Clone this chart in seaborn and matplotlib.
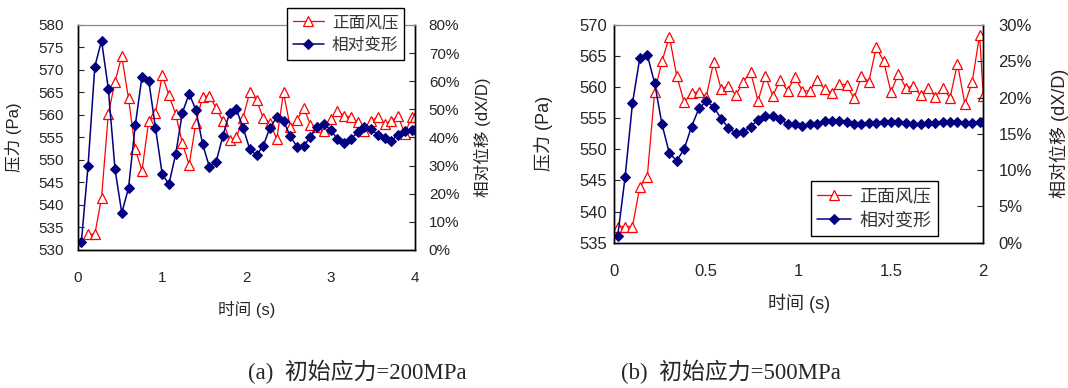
import numpy as np
import matplotlib
matplotlib.use("Agg")
import matplotlib.pyplot as plt
import seaborn as sns
from matplotlib.ticker import MultipleLocator, PercentFormatter, FormatStrFormatter

sns.set_style("white")
plt.rcParams["font.family"] = ["Liberation Sans", "Noto Sans CJK SC", "DejaVu Sans"]

# ── data ────────────────────────────────────────────────────────────────────
# (a) initial stress 200 MPa, sampled every 0.08 s
time_a = list(np.round(np.arange(0.04, 4.0, 0.08), 2)) + [4.0]
pressure_a = [533.5, 533.5, 541.6, 560.2, 567.4, 573.1, 563.7, 552.4, 547.6, 558.7,
              560.4, 568.9, 564.4, 560.2, 553.7, 548.9, 558.3, 564.0, 564.3, 561.5,
              558.7, 554.4, 555.0, 559.4, 565.2, 563.3, 559.3, 558.3, 554.6, 565.0,
              557.3, 558.9, 561.6, 557.8, 557.3, 556.4, 559.0, 560.9, 559.8, 559.5,
              558.5, 556.4, 558.7, 559.6, 558.0, 558.7, 559.8, 555.8, 559.5, 559.6]
deform_a = [2.7, 30.0, 65.2, 74.4, 57.4, 28.7, 13.2, 22.0, 44.3, 61.6,
            60.2, 43.5, 27.0, 23.4, 34.1, 48.8, 55.6, 49.8, 37.6, 29.6,
            31.3, 40.5, 48.8, 50.0, 43.5, 35.8, 33.7, 37.1, 43.5, 47.2,
            45.9, 40.5, 36.7, 37.0, 40.3, 43.8, 44.7, 42.7, 39.4, 37.9,
            39.5, 41.8, 43.6, 43.0, 40.9, 39.7, 38.9, 40.9, 42.3, 42.7, 42.7]

# (b) initial stress 500 MPa, sampled every 0.04 s
time_b = list(np.round(np.arange(0.02, 2.0, 0.04), 2)) + [2.0]
pressure_b = [537.6, 537.6, 537.6, 544.0, 545.5, 559.2, 564.2, 568.1, 561.8, 557.6,
              559.0, 559.3, 558.5, 564.1, 559.7, 560.2, 558.7, 560.9, 562.4, 557.8,
              561.8, 558.6, 561.2, 559.4, 561.7, 559.4, 559.4, 561.2, 559.7, 559.1,
              560.5, 560.4, 558.2, 561.8, 560.9, 566.4, 564.2, 559.2, 562.2, 559.9,
              560.2, 558.7, 559.9, 558.5, 559.9, 558.3, 563.8, 557.3, 560.9, 568.4, 558.6]
deform_b = [0.9, 9.0, 19.2, 25.5, 25.9, 22.0, 16.3, 12.3, 11.3, 12.9,
            16.0, 18.5, 19.5, 18.7, 17.1, 15.8, 15.1, 15.3, 16.0, 16.9,
            17.5, 17.5, 17.0, 16.4, 16.3, 16.1, 16.3, 16.4, 16.8, 16.8,
            16.8, 16.7, 16.4, 16.4, 16.5, 16.5, 16.6, 16.6, 16.6, 16.5,
            16.4, 16.4, 16.5, 16.5, 16.6, 16.6, 16.6, 16.5, 16.5, 16.7, 16.7]

RED = "#FF0000"
NAVY = "#000080"
LBL_PRESSURE = "正面风压"
LBL_DEFORM = "相对变形"
CJK = ["Liberation Sans", "Noto Sans CJK SC"]


def panel(ax, t_red, red, t_blue, blue, xlim, xstep, ylim, ystep, plim, pstep,
          tick_fs, label_fs, leg_fs, leg_kw, lpad, rpad):
    ax2 = ax.twinx()
    sns.lineplot(x=t_red, y=red, ax=ax, color=RED, lw=0.9, marker="^", ms=7,
                 markerfacecolor="white", markeredgecolor=RED, markeredgewidth=0.9,
                 legend=False)
    sns.lineplot(x=t_blue, y=blue, ax=ax2, color=NAVY, lw=1.1, marker="D", ms=5,
                 markerfacecolor=NAVY, markeredgecolor=NAVY, legend=False)

    ax.set_xlim(*xlim); ax.set_ylim(*ylim); ax2.set_ylim(*plim)
    ax.xaxis.set_major_locator(MultipleLocator(xstep))
    ax.xaxis.set_major_formatter(FormatStrFormatter("%g"))
    ax.yaxis.set_major_locator(MultipleLocator(ystep))
    ax2.yaxis.set_major_locator(MultipleLocator(pstep))
    ax2.yaxis.set_major_formatter(PercentFormatter(100, decimals=0))

    ax.tick_params(axis="x", direction="in", length=4, width=0.8, pad=15, labelsize=tick_fs)
    ax.tick_params(axis="y", direction="in", length=4, width=0.8, pad=lpad, labelsize=tick_fs)
    ax2.tick_params(axis="y", direction="in", length=4, width=0.8, pad=rpad, labelsize=tick_fs)

    for a in (ax, ax2):
        for s in ("left", "right", "bottom"):
            a.spines[s].set_color("black"); a.spines[s].set_linewidth(1.0)
        a.spines["top"].set_color("#8a8a8a"); a.spines["top"].set_linewidth(0.8)

    ax.set_xlabel("时间 (s)", fontsize=label_fs, family=CJK)
    ax.set_ylabel("压力 (Pa)", fontsize=label_fs, family=CJK, color="#222222")
    ax2.set_ylabel("相对位移 (dX/D)", fontsize=label_fs, family=CJK, color="#222222")

    h = [ax.lines[0], ax2.lines[0]]
    leg = ax2.legend(h, [LBL_PRESSURE, LBL_DEFORM], prop={"family": ["Noto Sans CJK SC"], "size": leg_fs},
                     frameon=True, fancybox=False, framealpha=1, edgecolor="black",
                     borderpad=0.35, labelspacing=0.35, handlelength=1.9, handletextpad=0.45,
                     borderaxespad=0, **leg_kw)
    leg.get_frame().set_linewidth(1.0)
    for txt in leg.get_texts():
        txt.set_color("#333333")
    return ax2


fig = plt.figure(figsize=(10.68, 3.88), dpi=100)

ax_a = fig.add_axes([0.0730, 0.3557, 0.3155, 0.5799])
ax_a2 = panel(ax_a, time_a[1:], pressure_a, time_a, deform_a, (0, 4), 1, (530, 580), 5, (0, 80), 10,
              11, 12, 12, dict(loc="upper right", bbox_to_anchor=(0.968, 1.074)), 10, 10)
ax_a.yaxis.set_label_coords(-0.165, 0.5)
ax_a2.yaxis.set_label_coords(1.175, 0.5)
ax_a.xaxis.set_label_coords(0.5, -0.225)

ax_b = fig.add_axes([0.5749, 0.3745, 0.3458, 0.5611])
ax_b2 = panel(ax_b, time_b, pressure_b, time_b, deform_b, (0, 2), 0.5, (535, 570), 5, (0, 30), 5,
              12, 13, 13, dict(loc="lower right", bbox_to_anchor=(0.8765, 0.031)), 5, 11)
ax_b.yaxis.set_label_coords(-0.165, 0.5)
ax_b2.yaxis.set_label_coords(1.18, 0.5)
ax_b.xaxis.set_label_coords(0.5, -0.235)

CAP = ["Liberation Serif", "Noto Sans CJK SC"]
fig.text(357 / 1068, 1 - 372 / 388, "(a)  初始应力=200MPa", ha="center", va="center", fontsize=16.5, family=CAP)
fig.text(731 / 1068, 1 - 372 / 388, "(b)  初始应力=500MPa", ha="center", va="center", fontsize=16.5, family=CAP)

fig.savefig("out.png", dpi=100)
